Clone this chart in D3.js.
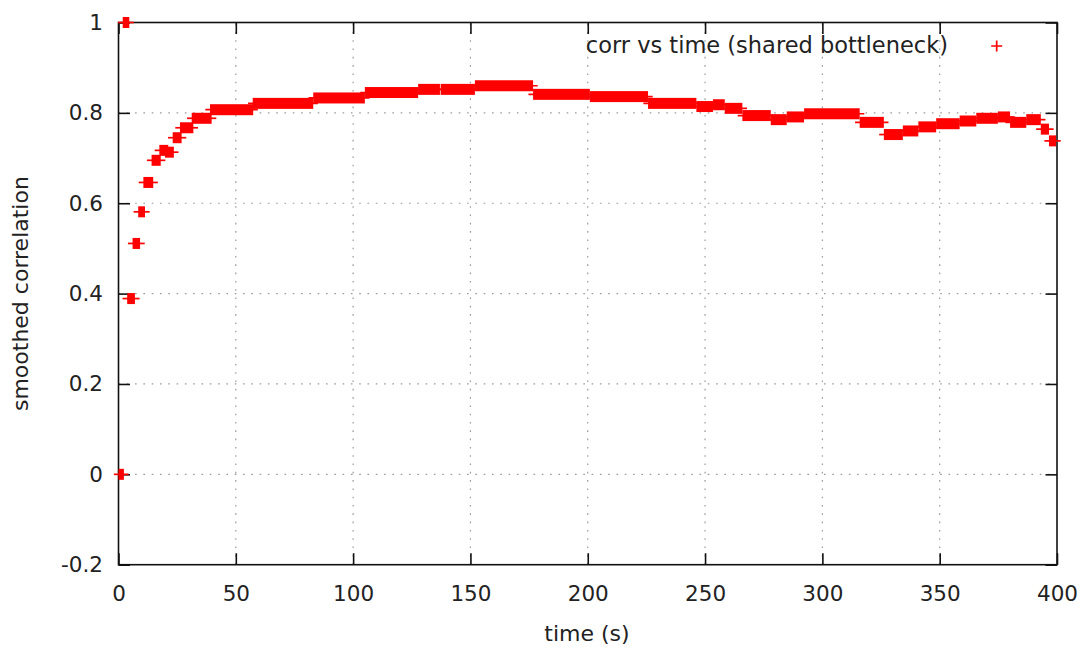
<!DOCTYPE html>
<html>
<head>
<meta charset="utf-8">
<script src="https://cdn.jsdelivr.net/npm/d3@7"></script>
<style>
  html, body { margin: 0; padding: 0; background: #fff; }
  svg { display: block; }
  text { font-family: "DejaVu Sans", sans-serif; fill: #222; }
</style>
</head>
<body>
<svg id="chart" width="1086" height="650"></svg>
<script>
// Smoothed correlation over time: each run is a stretch of samples that
// share one correlation value (start time, end time in seconds, value).
const runStart = [0.0, 1.8, 3.7, 6.0, 8.4, 10.6, 14.1, 17.4, 19.8, 23.1, 26.2, 31.2, 39.0, 57.2, 83.0, 105.0, 127.7, 137.3, 151.9, 176.7, 200.9, 225.7, 246.3, 253.4, 258.4, 265.9, 278.0, 284.8, 292.2, 315.9, 326.2, 334.3, 340.9, 348.5, 358.5, 365.6, 374.8, 380.0, 386.9, 393.1, 396.6];
const runEnd   = [2.3, 4.6, 7.0, 9.2, 11.3, 14.8, 18.0, 21.2, 23.6, 26.9, 31.9, 39.7, 57.4, 83.0, 105.0, 127.7, 137.0, 151.9, 176.7, 200.9, 225.7, 246.3, 253.4, 258.4, 265.9, 278.0, 284.8, 292.2, 315.9, 326.2, 334.3, 340.9, 348.5, 358.5, 365.6, 374.8, 380.0, 386.9, 393.1, 396.6, 399.6];
const runCorr  = [0.000, 1.000, 0.389, 0.511, 0.581, 0.646, 0.695, 0.717, 0.713, 0.745, 0.767, 0.788, 0.807, 0.821, 0.833, 0.845, 0.852, 0.852, 0.860, 0.841, 0.836, 0.821, 0.814, 0.818, 0.810, 0.794, 0.785, 0.791, 0.798, 0.779, 0.752, 0.760, 0.769, 0.776, 0.782, 0.788, 0.791, 0.779, 0.785, 0.764, 0.738];

const xTickValues = [0, 50, 100, 150, 200, 250, 300, 350, 400];
const xTickLabels = ["0", "50", "100", "150", "200", "250", "300", "350", "400"];
const yTickValues = [-0.2, 0, 0.2, 0.4, 0.6, 0.8, 1];
const yTickLabels = ["-0.2", "0", "0.2", "0.4", "0.6", "0.8", "1"];

const xTitle = "time (s)";
const yTitle = "smoothed correlation";
const seriesName = "corr vs time (shared bottleneck)";

// Layout
const W = 1086, H = 650;
const plot = { left: 118.5, right: 1057, top: 22.5, bottom: 564.7 };
const tickLen = 11.5;
const tickFont = 21.5;
const titleFont = 22;
const markHalf = 5.5;      // half size of a "+" marker
const armWidth = 1.7;      // stroke width of the marker arms
const red = "#ff0000";

const svg = d3.select("#chart");

const x = d3.scaleLinear().domain([0, 400]).range([plot.left, plot.right]);
const y = d3.scaleLinear().domain([-0.2, 1]).range([plot.bottom, plot.top]);

// Dotted grid
const grid = svg.append("g").attr("stroke", "#9a9a9a").attr("stroke-width", 1.2)
  .attr("stroke-dasharray", "1.6,6.7").attr("fill", "none");
xTickValues.filter(v => v > 0 && v < 400).forEach(v => {
  grid.append("line").attr("x1", x(v)).attr("x2", x(v))
    .attr("y1", plot.bottom).attr("y2", plot.top);
});
yTickValues.filter(v => v > -0.2 && v < 1).forEach(v => {
  grid.append("line").attr("x1", plot.left).attr("x2", plot.right)
    .attr("y1", y(v)).attr("y2", y(v));
});

// Axes with inward ticks on all four sides (mirrored)
const tickFmtX = (d, i) => xTickLabels[i];
const tickFmtY = (d, i) => yTickLabels[i];

const axB = svg.append("g").attr("transform", `translate(0,${plot.bottom})`)
  .call(d3.axisBottom(x).tickValues(xTickValues).tickFormat(tickFmtX).tickSizeInner(-tickLen).tickSizeOuter(0).tickPadding(21.5));
const axT = svg.append("g").attr("transform", `translate(0,${plot.top})`)
  .call(d3.axisTop(x).tickValues(xTickValues).tickFormat("").tickSizeInner(-tickLen).tickSizeOuter(0));
const axL = svg.append("g").attr("transform", `translate(${plot.left},0)`)
  .call(d3.axisLeft(y).tickValues(yTickValues).tickFormat(tickFmtY).tickSizeInner(-tickLen).tickSizeOuter(0).tickPadding(15.5));
const axR = svg.append("g").attr("transform", `translate(${plot.right},0)`)
  .call(d3.axisRight(y).tickValues(yTickValues).tickFormat("").tickSizeInner(-tickLen).tickSizeOuter(0));

[axB, axT, axL, axR].forEach(g => {
  g.select(".domain").remove();
  g.selectAll(".tick line").attr("stroke", "#111").attr("stroke-width", 1.6);
  g.selectAll("text").attr("font-family", "DejaVu Sans, sans-serif")
    .attr("font-size", tickFont).attr("fill", "#222");
});
axB.selectAll("text").attr("dy", "0.71em");

// Frame
svg.append("rect")
  .attr("x", plot.left).attr("y", plot.top)
  .attr("width", plot.right - plot.left).attr("height", plot.bottom - plot.top)
  .attr("fill", "none").attr("stroke", "#111").attr("stroke-width", 1.6);

// Axis titles
svg.append("text")
  .attr("x", 587).attr("y", 635)
  .attr("text-anchor", "middle").attr("dominant-baseline", "middle")
  .attr("font-size", titleFont).text(xTitle);

svg.append("text")
  .attr("transform", `translate(22,${(plot.top + plot.bottom) / 2}) rotate(-90)`)
  .attr("text-anchor", "middle").attr("dominant-baseline", "middle")
  .attr("font-size", titleFont).text(yTitle);

// Data: runs of overlapping "+" markers. The vertical arms merge into a
// solid band, the horizontal arms stick out at both ends.
const runs = runStart.map((s, i) => ({ s, e: runEnd[i], v: runCorr[i] }));
const marks = svg.append("g").attr("fill", red).attr("stroke", red);

marks.selectAll("rect.band").data(runs).join("rect")
  .attr("class", "band")
  .attr("x", d => x(d.s))
  .attr("width", d => Math.max(x(d.e) - x(d.s), armWidth))
  .attr("y", d => y(d.v) - markHalf)
  .attr("height", markHalf * 2)
  .attr("stroke", "none");

marks.selectAll("line.arm").data(runs).join("line")
  .attr("class", "arm")
  .attr("x1", d => x(d.s) - (markHalf - armWidth / 2))
  .attr("x2", d => x(d.e) + (markHalf - armWidth / 2))
  .attr("y1", d => y(d.v)).attr("y2", d => y(d.v))
  .attr("stroke-width", armWidth);

// Legend
const legY = 46;
svg.append("text")
  .attr("x", 948).attr("y", legY)
  .attr("text-anchor", "end").attr("dominant-baseline", "middle")
  .attr("font-size", titleFont + 0.5).text(seriesName);
const legX = 996.7;
svg.append("path")
  .attr("d", `M${legX - markHalf},${legY}H${legX + markHalf}M${legX},${legY - markHalf}V${legY + markHalf}`)
  .attr("stroke", red).attr("stroke-width", armWidth).attr("fill", "none");
</script>
</body>
</html>
